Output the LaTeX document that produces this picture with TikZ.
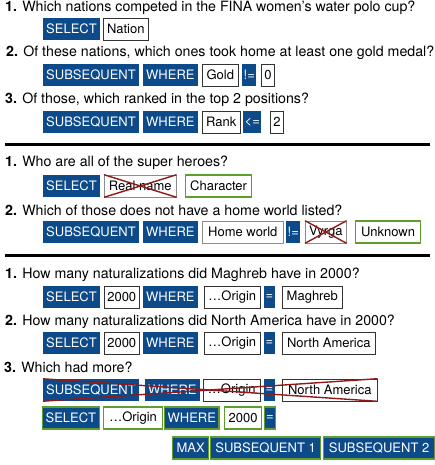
\documentclass[tikz,border=0pt]{standalone}
\usepackage{fontspec}
\setmainfont{TeX Gyre Heros}
\usetikzlibrary{positioning}
\definecolor{kwblue}{HTML}{0D4A8A}
\definecolor{okgreen}{HTML}{5E9E2E}
\definecolor{xred}{HTML}{8E1B1B}

\begin{document}
\begin{tikzpicture}[x=1pt, y=-1pt, font=\fontsize{13pt}{15pt}\selectfont,
    kw/.style={fill=kwblue, text=white, minimum height=22pt, inner ysep=0pt, inner xsep=3pt, anchor=west},
    op/.style={kw, inner xsep=1.5pt},
    val/.style={draw=black!80, fill=white, line width=0.6pt, minimum height=22pt, inner ysep=0pt, inner xsep=3pt, anchor=west},
    oldval/.style={val, draw=black!45},
    newval/.style={val, draw=okgreen, line width=1.2pt},
    newkw/.style={kw, draw=okgreen, line width=1.2pt},
    ask/.style={anchor=west, inner sep=0pt, font=\fontsize{14.2pt}{16pt}\selectfont},
    cross/.style={xred, line width=1.4pt},
    rule/.style={line width=3pt}]
    \useasboundingbox (0,0) rectangle (435,465);

    \coordinate (L1) at (5,145);
    \coordinate (R1) at (430,145);
    \coordinate (L2) at (5,255);
    \coordinate (R2) at (430,255);
    \draw[rule] (L1) -- (R1);
    \draw[rule] (L2) -- (R2);

    \node[ask] (q11) at (5,8) {\textbf{1.} Which nations competed in the FINA women's water polo cup?};
    \node[kw] (a1) at (43,29) {SELECT};
    \node[val, minimum width=45pt] (a2) at (103,29) {Nation};

    \node[ask] (q12) at (6,53) {\textbf{2.} Of these nations, which ones took home at least one gold medal?};
    \node[kw] (b1) at (43,75) {SUBSEQUENT};
    \node[kw] (b2) at (143,75) {WHERE};
    \node[val, minimum width=36pt] (b3) at (202,75) {Gold};
    \node[op] (b4) at (242,75) {!=};
    \node[val] (b5) at (261,75) {0};

    \node[ask] (q13) at (5,100) {\textbf{3.} Of those, which ranked in the top 2 positions?};
    \node[kw] (c1) at (43,122) {SUBSEQUENT};
    \node[kw] (c2) at (143,122) {WHERE};
    \node[val, minimum width=38pt] (c3) at (202,122) {Rank};
    \node[op] (c4) at (243,122) {<=};
    \node[val] (c5) at (270,122) {2};

    \node[ask] (q21) at (5,163) {\textbf{1.} Who are all of the super heroes?};
    \node[kw] (d1) at (43,186) {SELECT};
    \node[oldval, minimum width=72pt] (d2) at (104,186) {Real name};
    \node[newval, minimum width=66pt] (d3) at (185,186) {Character};
    \draw[cross] (d2.north west) -- (d2.south east);
    \draw[cross] (d2.south west) -- (d2.north east);

    \node[ask] (q22) at (5,210) {\textbf{2.} Which of those does not have a home world listed?};
    \node[kw] (e1) at (43,232) {SUBSEQUENT};
    \node[kw] (e2) at (143,232) {WHERE};
    \node[oldval, minimum width=81pt] (e3) at (202,232) {Home world};
    \node[op] (e4) at (286,232) {!=};
    \node[oldval, minimum width=41pt] (e5) at (305,232) {Vyrga};
    \node[newval, minimum width=65pt] (e6) at (355,232) {Unknown};
    \draw[cross] (e5.north west) -- (e5.south east);
    \draw[cross] (e5.south west) -- (e5.north east);

    \node[ask] (q31) at (5,275) {\textbf{1.} How many naturalizations did Maghreb have in 2000?};
    \node[kw] (f1) at (43,297) {SELECT};
    \node[val, minimum width=34pt] (f2) at (104,297) {2000};
    \node[kw] (f3) at (143,297) {WHERE};
    \node[val, minimum width=56pt] (f4) at (204,297) {\ldots Origin};
    \node[op] (f5) at (264,297) {=};
    \node[val, minimum width=60pt] (f6) at (282,297) {Maghreb};

    \node[ask] (q32) at (5,322) {\textbf{2.} How many naturalizations did North America have in 2000?};
    \node[kw] (g1) at (43,343) {SELECT};
    \node[val, minimum width=34pt] (g2) at (104,343) {2000};
    \node[kw] (g3) at (143,343) {WHERE};
    \node[val, minimum width=56pt] (g4) at (204,343) {\ldots Origin};
    \node[op] (g5) at (264,343) {=};
    \node[val, minimum width=93pt] (g6) at (282,343) {North America};

    \node[ask] (q33) at (4,367) {\textbf{3.} Which had more?};
    \node[kw] (h1) at (43,390) {SUBSEQUENT};
    \node[kw] (h2) at (145,390) {WHERE};
    \node[val, minimum width=57pt] (h3) at (203,390) {\ldots Origin};
    \node[op] (h4) at (264,390) {=};
    \node[val, minimum width=95pt] (h5) at (282,390) {North America};
    \draw[cross] (h1.north west) -- (h5.south east);
    \draw[cross] (h1.south west) -- (h5.north east);

    \node[newkw] (k1) at (42,418) {SELECT};
    \node[newval, minimum width=59pt] (k2) at (103,418) {\ldots Origin};
    \node[newkw] (k3) at (164,418) {WHERE};
    \node[newval, minimum width=37pt] (k4) at (224,418) {2000};
    \node[newkw, inner xsep=1.5pt] (k5) at (264,418) {=};

    \node[newkw, minimum width=36pt] (m1) at (172,448) {MAX};
    \node[newkw, minimum width=110pt] (m2) at (210,448) {SUBSEQUENT 1};
    \node[newkw, minimum width=111pt] (m3) at (323,448) {SUBSEQUENT 2};
\end{tikzpicture}
\end{document}
